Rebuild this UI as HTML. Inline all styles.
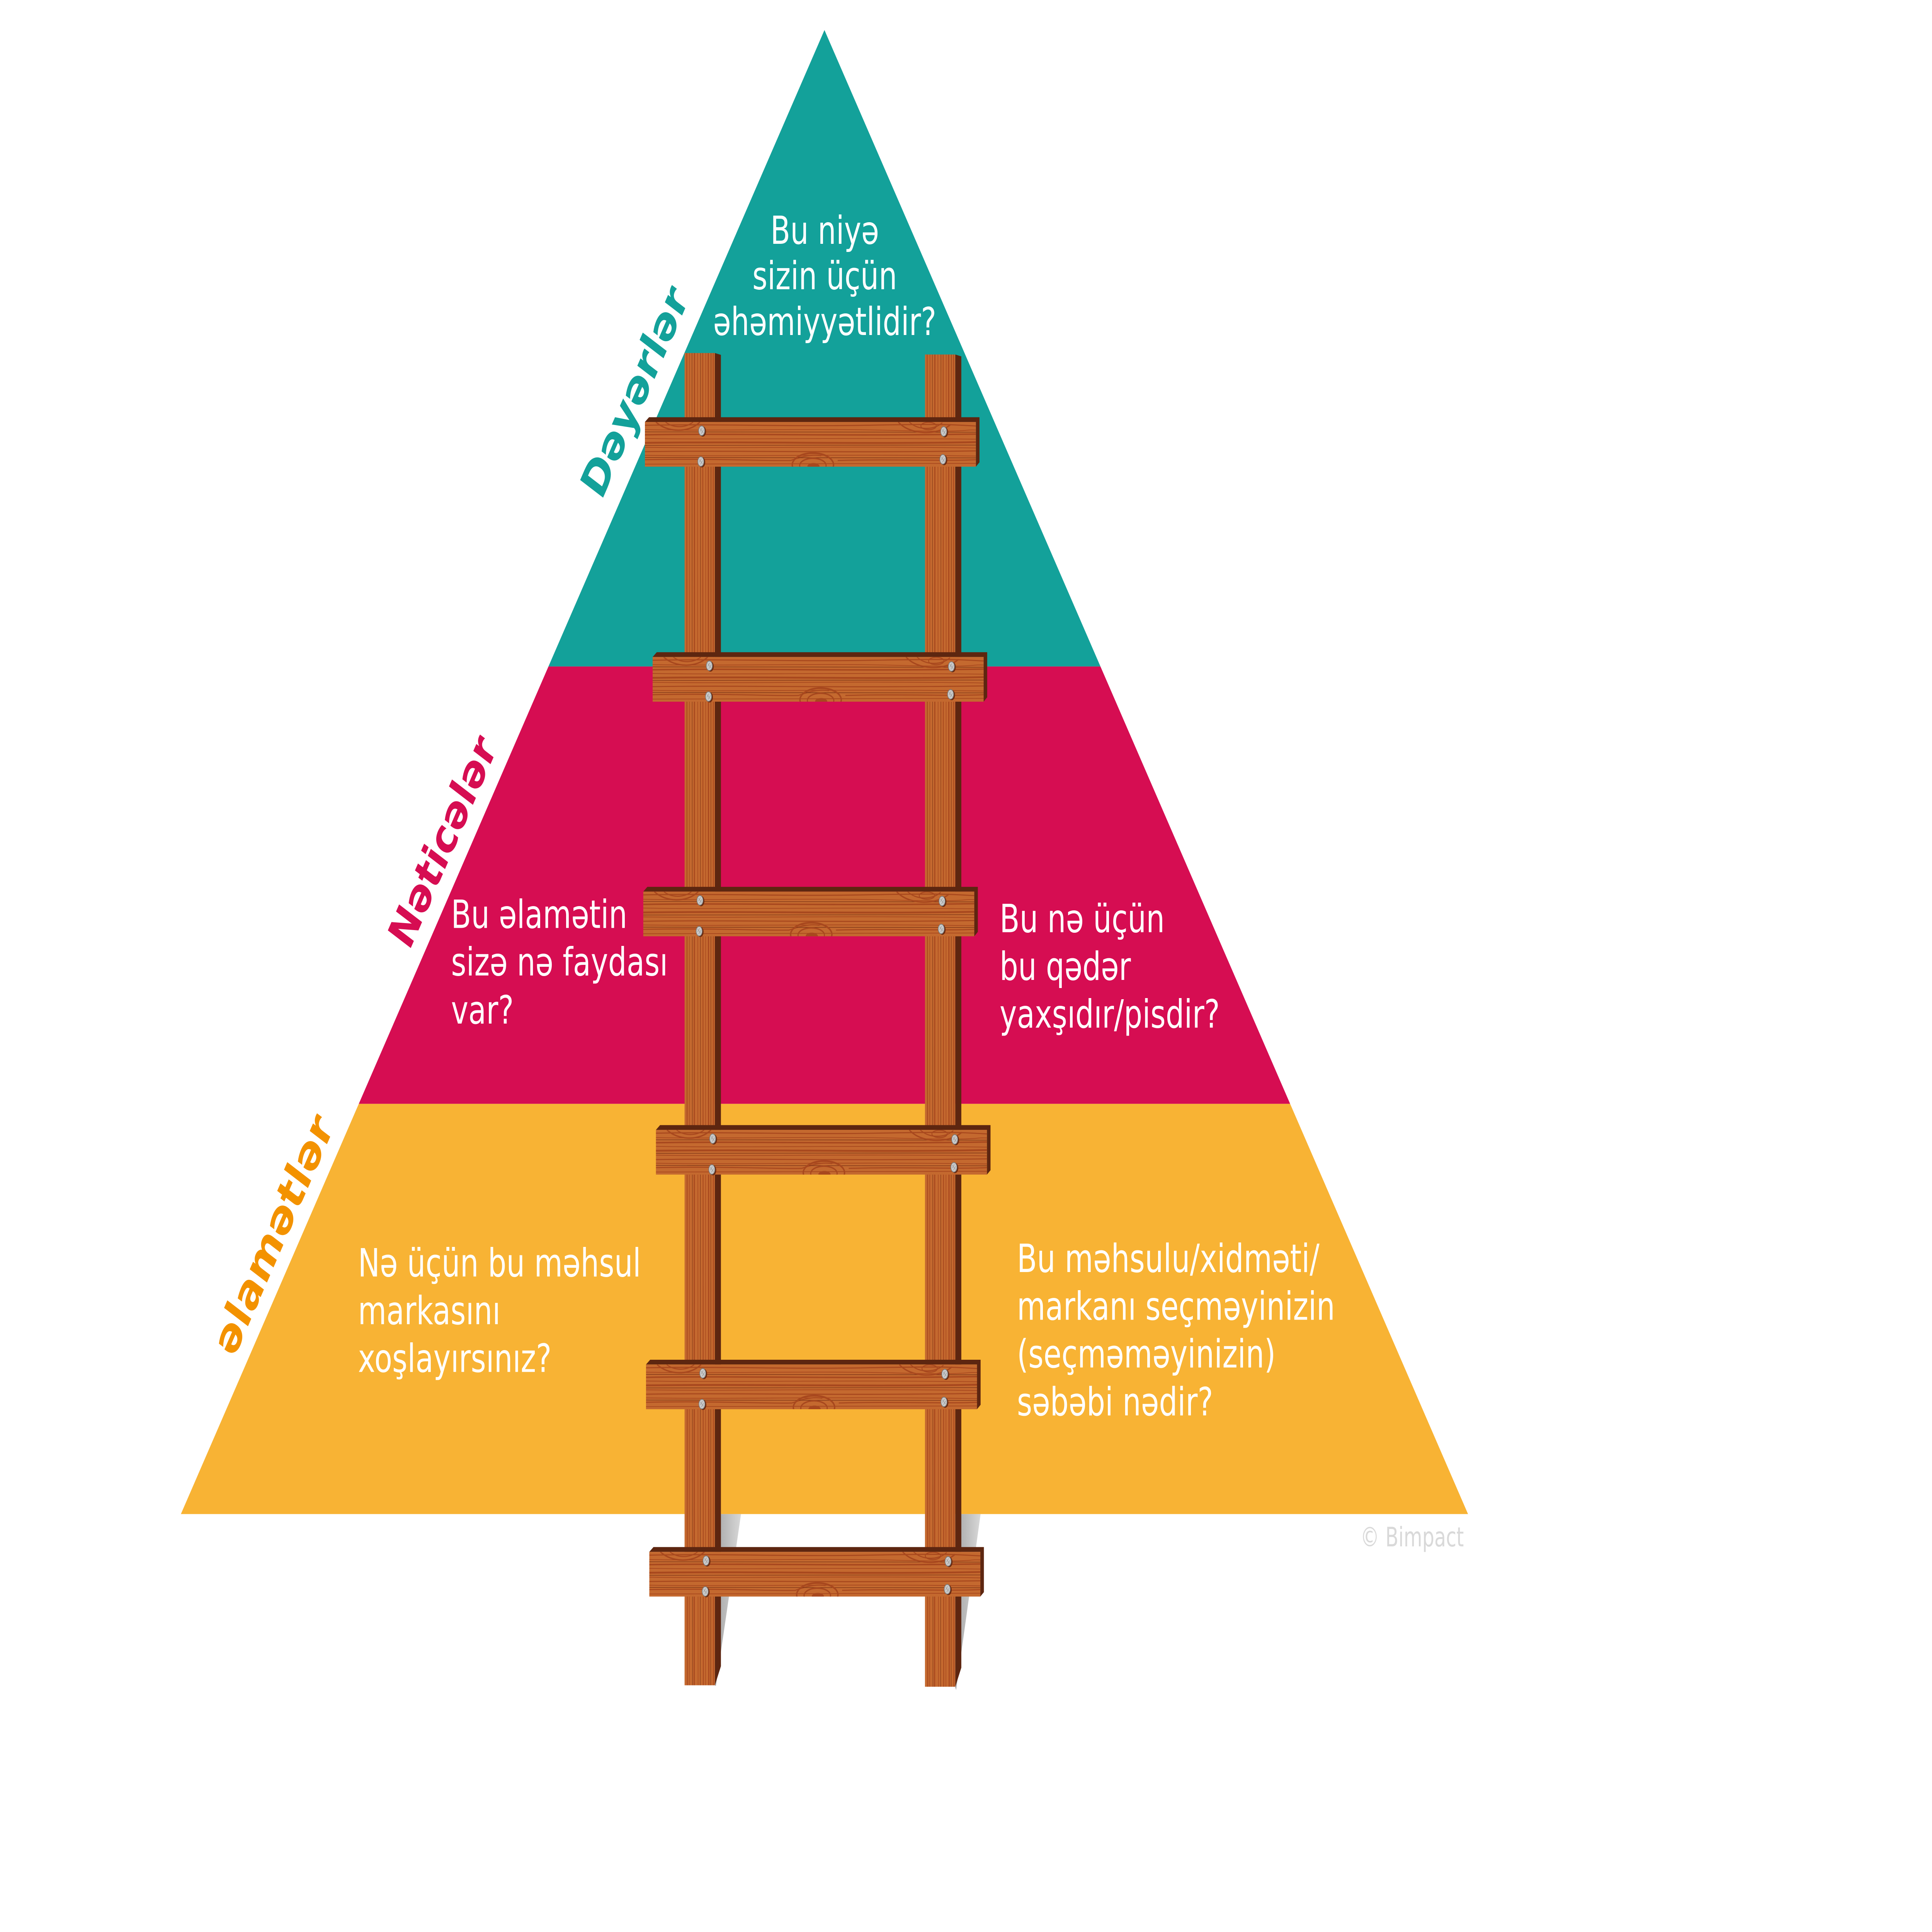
<!DOCTYPE html>
<html>
<head>
<meta charset="utf-8">
<style>
html,body{margin:0;padding:0;background:#ffffff;width:100%;height:100%;overflow:hidden;}
svg{display:block;width:100%;height:100%;}
.body{font-family:"DejaVu Sans","Liberation Sans",sans-serif;font-size:106px;fill:#ffffff;}
.lbl{font-family:"DejaVu Sans","Liberation Sans",sans-serif;font-size:132px;font-weight:bold;}
</style>
</head>
<body>
<svg xmlns="http://www.w3.org/2000/svg" xmlns:xlink="http://www.w3.org/1999/xlink" viewBox="0 0 7016 5270" preserveAspectRatio="none">
<defs>
  <linearGradient id="shd" x1="0" y1="0" x2="1" y2="0">
    <stop offset="0" stop-color="#a6a6a6"/>
    <stop offset="1" stop-color="#d8d8d8"/>
  </linearGradient>
  <clipPath id="rc"><rect x="0" y="13" width="1202" height="122"/></clipPath>
  <clipPath id="railc"><rect x="0" y="0" width="110" height="3634"/></clipPath>
  <g id="nail">
    <ellipse cx="4" cy="2" rx="12" ry="14" fill="#6b2a10"/>
    <ellipse cx="0" cy="0" rx="11" ry="13" fill="#cacaca" stroke="#7a7a7a" stroke-width="2"/>
    <path d="M-6 -6 L6 6 M-6 2 L2 -8 M-2 8 L7 -3" stroke="#9a9a9a" stroke-width="1.5"/>
  </g>
  <g id="rung">
    <polygon points="0,13 15,0 1215,0 1215,123 1202,135 1202,13" fill="#5d2610"/>
    <rect x="0" y="13" width="1202" height="122" fill="#c4692f"/>
    <g clip-path="url(#rc)" fill="none">
      <path d="M0 22 C300 18 500 26 800 22 S1100 20 1202 24" stroke="#a8481e" stroke-width="3"/>
      <path d="M0 34 C250 38 600 30 900 36 S1150 33 1202 35" stroke="#a8481e" stroke-width="2"/>
      <path d="M0 48 C350 44 700 52 1202 46" stroke="#a8481e" stroke-width="4"/>
      <path d="M0 58 C300 62 650 55 1202 60" stroke="#a8481e" stroke-width="2"/>
      <path d="M0 70 C400 66 800 74 1202 68" stroke="#a8481e" stroke-width="5"/>
      <path d="M0 82 C300 86 700 78 1202 84" stroke="#a8481e" stroke-width="2"/>
      <path d="M0 94 C350 90 650 98 1202 92" stroke="#a8481e" stroke-width="3"/>
      <path d="M0 104 C300 108 700 100 1202 106" stroke="#a8481e" stroke-width="2"/>
      <path d="M0 116 C250 112 450 120 530 118 C560 110 600 100 640 105" stroke="#a8481e" stroke-width="3"/>
      <path d="M700 118 C900 114 1100 120 1202 116" stroke="#a8481e" stroke-width="3"/>
      <path d="M0 128 C300 124 700 130 1202 126" stroke="#a8481e" stroke-width="2"/>
      <path d="M0 40 C400 42 800 38 1202 41" stroke="#7b3416" stroke-width="1.5"/>
      <path d="M0 77 C400 75 800 79 1202 76" stroke="#7b3416" stroke-width="1.5"/>
      <path d="M0 110 C400 112 800 108 1202 111" stroke="#7b3416" stroke-width="1.5"/>
      <path d="M40 13 C80 42 160 44 200 13" stroke="#a8481e" stroke-width="4"/>
      <path d="M75 13 C100 30 150 30 175 13" stroke="#a8481e" stroke-width="3"/>
      <path d="M920 13 C960 48 1060 52 1110 20" stroke="#a8481e" stroke-width="4"/>
      <path d="M960 13 C990 36 1050 36 1080 15" stroke="#a8481e" stroke-width="3"/>
      <ellipse cx="1030" cy="24" rx="28" ry="10" stroke="#a8481e" stroke-width="3"/>
      <ellipse cx="610" cy="130" rx="75" ry="32" stroke="#a8481e" stroke-width="5"/>
      <ellipse cx="610" cy="132" rx="48" ry="20" stroke="#a8481e" stroke-width="4"/>
      <ellipse cx="612" cy="134" rx="22" ry="9" fill="#a8481e"/>
    </g>
    <use xlink:href="#nail" x="206" y="37"/>
    <use xlink:href="#nail" x="203" y="121"/>
    <use xlink:href="#nail" x="1085" y="39"/>
    <use xlink:href="#nail" x="1082" y="115"/>
  </g>
  <g id="rail">
    <polygon points="110,0 132,5 132,3582 110,3634" fill="#5d2610"/>
    <rect x="0" y="0" width="110" height="3634" fill="#c4692f"/>
    <g clip-path="url(#railc)" fill="none">
      <path d="M8 0 L10 3634" stroke="#a8481e" stroke-width="3"/>
      <path d="M18 0 L17 3634" stroke="#a8481e" stroke-width="2"/>
      <path d="M27 0 L29 3634" stroke="#7b3416" stroke-width="1.5"/>
      <path d="M36 0 L35 3634" stroke="#a8481e" stroke-width="4"/>
      <path d="M47 0 L49 3634" stroke="#a8481e" stroke-width="2"/>
      <path d="M58 0 L57 3634" stroke="#7b3416" stroke-width="1.5"/>
      <path d="M66 0 L68 3634" stroke="#a8481e" stroke-width="3"/>
      <path d="M77 0 L76 3634" stroke="#a8481e" stroke-width="2"/>
      <path d="M86 0 L88 3634" stroke="#a8481e" stroke-width="4"/>
      <path d="M96 0 L95 3634" stroke="#7b3416" stroke-width="1.5"/>
      <path d="M104 0 L105 3634" stroke="#a8481e" stroke-width="3"/>
    </g>
  </g>
</defs>

<rect x="0" y="0" width="7016" height="5270" fill="#ffffff"/>

<!-- pyramid -->
<polygon points="2994,82 3996.3,1818 1991.7,1818" fill="#13a19a"/>
<polygon points="1991.7,1818 3996.3,1818 4685.1,3011 1302.9,3011" fill="#d60d52"/>
<polygon points="1302.9,3011 4685.1,3011 5331.1,4130 656.9,4130" fill="#f8b334"/>

<!-- shadows below -->
<polygon points="2610,4130 2691,4130 2600,4598 2596,4598" fill="url(#shd)"/>
<polygon points="3482,4130 3561,4130 3472,4610 3468,4600" fill="url(#shd)"/>

<!-- rotated labels -->
<text class="lbl" x="2184" y="1368" fill="#13a19a" textLength="640" lengthAdjust="spacingAndGlyphs" transform="rotate(-60 2184 1368)">Dəyərlər</text>
<text class="lbl" x="1486" y="2596" fill="#d60d52" textLength="642" lengthAdjust="spacingAndGlyphs" transform="rotate(-60 1486 2596)">Nəticələr</text>
<text class="lbl" x="849" y="3707" fill="#f39200" textLength="732" lengthAdjust="spacingAndGlyphs" transform="rotate(-60 849 3707)">əlamətlər</text>

<!-- top text -->
<text class="body" style="font-size:105px" x="2995" y="665" text-anchor="middle">Bu niyə</text>
<text class="body" style="font-size:105px" x="2995" y="789" text-anchor="middle">sizin üçün</text>
<text class="body" style="font-size:105px" x="2995" y="914" text-anchor="middle">əhəmiyyətlidir?</text>

<!-- pink left -->
<text class="body" x="1638" y="2531">Bu əlamətin</text>
<text class="body" x="1638" y="2661">sizə nə faydası</text>
<text class="body" x="1638" y="2792">var?</text>

<!-- pink right -->
<text class="body" x="3630" y="2543">Bu nə üçün</text>
<text class="body" x="3630" y="2673">bu qədər</text>
<text class="body" x="3630" y="2803">yaxşıdır/pisdir?</text>

<!-- orange left -->
<text class="body" x="1300" y="3482">Nə üçün bu məhsul</text>
<text class="body" x="1300" y="3612">markasını</text>
<text class="body" x="1300" y="3742">xoşlayırsınız?</text>

<!-- orange right -->
<text class="body" x="3693" y="3470">Bu məhsulu/xidməti/</text>
<text class="body" x="3693" y="3600">markanı seçməyinizin</text>
<text class="body" x="3693" y="3730">(seçməməyinizin)</text>
<text class="body" x="3693" y="3861">səbəbi nədir?</text>

<!-- ladder rails -->
<use xlink:href="#rail" x="2486" y="963"/>
<use xlink:href="#rail" x="3359" y="967"/>

<!-- rungs -->
<use xlink:href="#rung" x="2342" y="1138"/>
<use xlink:href="#rung" x="2370" y="1779"/>
<use xlink:href="#rung" x="2336" y="2419"/>
<use xlink:href="#rung" x="2382" y="3069"/>
<use xlink:href="#rung" x="2346" y="3709"/>
<use xlink:href="#rung" x="2358" y="4220"/>

<!-- copyright -->
<text x="4940" y="4218" font-family="DejaVu Sans, Liberation Sans, sans-serif" font-size="73" fill="#d9d9d9" textLength="376" lengthAdjust="spacingAndGlyphs">© Bimpact</text>
</svg>
</body>
</html>
